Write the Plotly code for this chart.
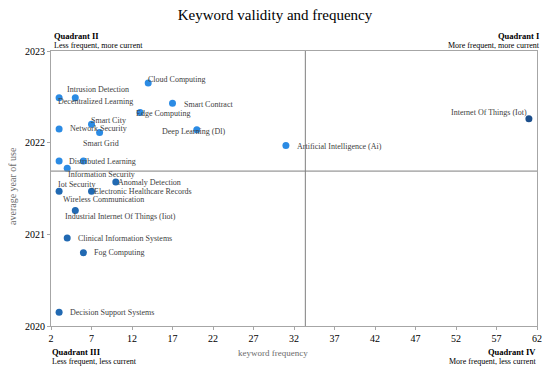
import plotly.graph_objects as go

keywords = ["Cloud Computing", "Intrusion Detection", "Decentralized Learning", "Smart Contract",
            "Edge Computing", "Smart City", "Network Security", "Smart Grid", "Deep Learning (Dl)",
            "Artificial Intelligence (Ai)", "Internet Of Things (Iot)", "Distributed Learning",
            "Wireless Communication", "Information Security", "Iot Security", "Anomaly Detection",
            "Electronic Healthcare Records", "Industrial Internet Of Things (Iiot)",
            "Clinical Information Systems", "Fog Computing", "Decision Support Systems"]
frequency = [14, 5, 3, 17, 13, 7, 3, 8, 20, 31, 61, 3, 6, 4, 3, 10, 7, 5, 4, 6, 3]
avg_year = [2022.65, 2022.49, 2022.49, 2022.43, 2022.33, 2022.20, 2022.15, 2022.11, 2022.14,
            2021.97, 2022.26, 2021.80, 2021.80, 2021.72, 2021.47, 2021.57, 2021.47, 2021.26,
            2020.96, 2020.80, 2020.15]
mean_frequency = 33.4
mean_year = 2021.69
x_ticks = list(range(2, 63, 5))
y_ticks = [2020, 2021, 2022, 2023]

# label offsets in pixels (dx, dy screen-down, anchor)
label_offsets = {
    "Cloud Computing": (-1, -4, "left"),
    "Intrusion Detection": (-9, -8, "left"),
    "Decentralized Learning": (-2, 4, "left"),
    "Smart Contract": (10, 1, "left"),
    "Edge Computing": (-5, 1, "left"),
    "Smart City": (-2, -4, "left"),
    "Network Security": (10, 0, "left"),
    "Smart Grid": (-18, 11, "left"),
    "Deep Learning (Dl)": (-36, 2, "left"),
    "Artificial Intelligence (Ai)": (10, 1, "left"),
    "Internet Of Things (Iot)": (-1, -6, "right"),
    "Distributed Learning": (9, 0, "left"),
    "Wireless Communication": (-21, 38, "left"),
    "Information Security": (0, 6, "left"),
    "Iot Security": (-2, -7, "left"),
    "Anomaly Detection": (1, 0, "left"),
    "Electronic Healthcare Records": (1, 0, "left"),
    "Industrial Internet Of Things (Iiot)": (-11, 6, "left"),
    "Clinical Information Systems": (10, 0, "left"),
    "Fog Computing": (10, 0, "left"),
    "Decision Support Systems": (10, 0, "left"),
}

def color_for(x, y):
    if x > mean_frequency:
        return "#1c4f8c"
    if y >= mean_year:
        return "#2b8be4"
    return "#2169b2"

colors = [color_for(x, y) for x, y in zip(frequency, avg_year)]
serif = "Liberation Serif"

fig = go.Figure()
fig.add_trace(go.Scatter(x=frequency, y=avg_year, mode="markers",
                         marker=dict(size=7, color=colors), hoverinfo="text", text=keywords))

annotations = []
for name, x, y in zip(keywords, frequency, avg_year):
    dx, dy, anchor = label_offsets[name]
    annotations.append(dict(x=x, y=y, text=name, showarrow=False, xanchor=anchor, yanchor="middle",
                            xshift=dx, yshift=-dy, borderpad=0,
                            font=dict(family=serif, size=8, color="#404040")))

def paper_text(x, y, text, xanchor, bold=False, size=9, color="#000000"):
    t = "<b>" + text + "</b>" if bold else text
    return dict(x=x, y=y, xref="paper", yref="paper", text=t, showarrow=False, xanchor=xanchor,
                yanchor="middle", borderpad=0, font=dict(family=serif, size=size, color=color))

# page body has an 8px margin; work in window pixels and subtract it
OFF = 8
W, H = 550 - OFF, 370 - OFF
L, R, T, B = 51 - OFF, 537 - OFF, 51 - OFF, 326 - OFF
def px(xp):
    return (xp - OFF - L) / (R - L)
def py(yp):
    return (B - (yp - OFF)) / (B - T)

annotations += [
    paper_text(px(53), py(36), "Quadrant II", "left", bold=True, size=8.5),
    paper_text(px(53), py(45), "Less frequent, more current", "left", size=8),
    paper_text(px(541), py(36), "Quadrant I", "right", bold=True, size=8.5),
    paper_text(px(541), py(45), "More frequent, more current", "right", size=8),
    paper_text(px(51), py(352), "Quadrant III", "left", bold=True, size=8.5),
    paper_text(px(51), py(361), "Less frequent, less current", "left", size=8),
    paper_text(px(537), py(352), "Quadrant IV", "right", bold=True, size=8.5),
    paper_text(px(537), py(361), "More frequent, less current", "right", size=8),
    paper_text(px(273), py(353), "keyword frequency", "center", size=9, color="#6b6b6b"),
    dict(x=px(12), y=py(186), xref="paper", yref="paper", text="average year of use", showarrow=False,
         textangle=-90, xanchor="center", yanchor="middle",
         font=dict(family=serif, size=10, color="#6b6b6b")),
]

fig.update_layout(
    width=W, height=H,
    margin=dict(l=L, r=W - R, t=T, b=H - B, autoexpand=False),
    paper_bgcolor="white", plot_bgcolor="white",
    showlegend=False,
    title=dict(text="Keyword validity and frequency", x=(275 - OFF) / W, xanchor="center",
               y=1 - (15 - OFF) / H, yanchor="middle",
               font=dict(family=serif, size=15, color="#000000")),
    annotations=annotations,
    shapes=[
        dict(type="line", xref="x", yref="paper", x0=mean_frequency, x1=mean_frequency, y0=0, y1=1,
             line=dict(color="#7f7f7f", width=1)),
        dict(type="line", xref="paper", yref="y", x0=0, x1=1, y0=mean_year, y1=mean_year,
             line=dict(color="#7f7f7f", width=1)),
    ],
)
fig.update_xaxes(range=[2, 62], tickvals=x_ticks, showgrid=False, zeroline=False,
                 showline=True, linecolor="#a6a6a6", linewidth=1, mirror=True,
                 ticks="outside", ticklen=3, tickcolor="#a6a6a6",
                 tickfont=dict(family=serif, size=10, color="#000000"))
fig.update_yaxes(range=[2020, 2023], tickvals=y_ticks, showgrid=False, zeroline=False,
                 showline=True, linecolor="#a6a6a6", linewidth=1, mirror=True,
                 ticks="outside", ticklen=3, tickcolor="#a6a6a6",
                 tickfont=dict(family=serif, size=10, color="#000000"))

fig.write_html("out.html")
